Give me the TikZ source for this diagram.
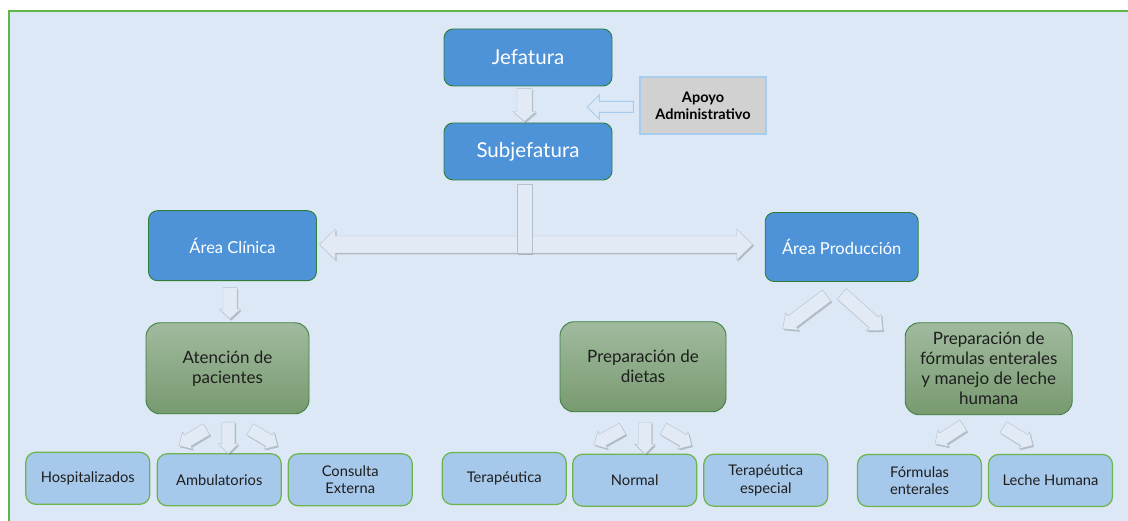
\documentclass[tikz,border=0pt]{standalone}
\usepackage{fontspec}
\setmainfont{Lato}
\usetikzlibrary{calc,shadows}

\definecolor{pagebg}{HTML}{DCE8F5}
\definecolor{framegreen}{HTML}{5DB846}
\definecolor{headblue}{HTML}{4E93D8}
\definecolor{edgegreen}{HTML}{2F7D3B}
\definecolor{unittop}{HTML}{A0BA9E}
\definecolor{unitbot}{HTML}{789A70}
\definecolor{unitedge}{HTML}{3E803E}
\definecolor{leaffill}{HTML}{A6C8EA}
\definecolor{leafedge}{HTML}{6DB34E}
\definecolor{arrowfill}{HTML}{E2EBF5}
\definecolor{arrowedge}{HTML}{B3C0CE}
\definecolor{supportfill}{HTML}{D1D1D1}
\definecolor{supportedge}{HTML}{A8CCEE}
\definecolor{inktext}{HTML}{1E1E1E}

\tikzset{
  headbox/.style={draw=edgegreen, line width=0.9pt, fill=headblue, rounded corners=9pt,
    text=white, align=center, inner sep=0pt},
  unitbox/.style={draw=unitedge, line width=0.9pt, top color=unittop, bottom color=unitbot,
    rounded corners=14pt, text=inktext, align=center, inner sep=0pt,
    font=\fontsize{17}{20}\selectfont, minimum height=91pt},
  leafbox/.style={draw=leafedge, line width=1.2pt, fill=leaffill, rounded corners=10pt,
    text=inktext, align=center, inner sep=0pt, minimum width=124pt, minimum height=52pt,
    font=\fontsize{14.7}{17.5}\selectfont},
  supportbox/.style={draw=supportedge, line width=1.5pt, fill=supportfill, text=black,
    align=center, inner sep=0pt, font=\bfseries\fontsize{14.5}{17}\selectfont},
  barrow/.style={fill=arrowfill, draw=arrowedge, line width=0.4pt,
    drop shadow={shadow xshift=1.2pt, shadow yshift=-1.5pt, opacity=0.35, fill=black!60}},
  outarrow/.style={fill=pagebg, draw=supportedge, line width=1pt},
}

% block arrow: [style]{start}{tip}{shaft half width}{head half width}{head length}
\newcommand\blockarrow[6][barrow]{%
  \coordinate (ba-s) at (#2);
  \coordinate (ba-e) at (#3);
  \coordinate (ba-h) at ($(ba-e)!#6pt!(ba-s)$);
  \path[#1] ($(ba-s)!#4pt!90:(ba-e)$) -- ($(ba-h)!#4pt!90:(ba-e)$)
    -- ($(ba-h)!#5pt!90:(ba-e)$) -- (ba-e)
    -- ($(ba-h)!#5pt!-90:(ba-e)$) -- ($(ba-h)!#4pt!-90:(ba-e)$)
    -- ($(ba-s)!#4pt!-90:(ba-e)$) -- cycle;
}
% two-headed block arrow: {left tip}{right tip}{shaft half width}{head half width}{head length}
\newcommand\dblarrow[5]{%
  \coordinate (da-l) at (#1);
  \coordinate (da-r) at (#2);
  \coordinate (da-hl) at ($(da-l)!#5pt!(da-r)$);
  \coordinate (da-hr) at ($(da-r)!#5pt!(da-l)$);
  \path[barrow] (da-l) -- ($(da-hl)!#4pt!90:(da-r)$) -- ($(da-hl)!#3pt!90:(da-r)$)
    -- ($(da-hr)!#3pt!-90:(da-l)$) -- ($(da-hr)!#4pt!-90:(da-l)$) -- (da-r)
    -- ($(da-hr)!#4pt!90:(da-l)$) -- ($(da-hr)!#3pt!90:(da-l)$)
    -- ($(da-hl)!#3pt!-90:(da-r)$) -- ($(da-hl)!#4pt!-90:(da-r)$) -- cycle;
}

\begin{document}
\begin{tikzpicture}[x=1pt, y=-1pt]
\useasboundingbox (0,0) rectangle (1128,521);
\clip (0,0) rectangle (1128,521);
\fill[white] (0,0) rectangle (1128,521);
\draw[framegreen, line width=2pt, fill=pagebg] (8.5,11) rectangle (1140,535);

% management
\node[headbox, minimum width=168pt, minimum height=57pt, font=\fontsize{20.5}{24}\selectfont]
  (jef) at (528,57.5) {Jefatura};
\node[headbox, minimum width=168pt, minimum height=57pt, font=\fontsize{20.5}{24}\selectfont]
  (sub) at (528,151.5) {Subjefatura};
\node[supportbox, minimum width=126pt, minimum height=57pt]
  (apoyo) at (703,105.5) {Apoyo\\Administrativo};

% areas
\node[headbox, minimum width=168pt, minimum height=70pt, font=\fontsize{16.5}{19}\selectfont]
  (clin) at (232.5,245.7) {Área Clínica};
\node[headbox, minimum width=153pt, minimum height=69pt, font=\fontsize{16.5}{19}\selectfont]
  (prod) at (841.7,247) {Área Producción};

% units
\node[unitbox, minimum width=163pt] (aten) at (227.5,368.3) {Atención de\\pacientes};
\node[unitbox, minimum width=166pt, minimum height=90pt] (diet) at (643,366.8) {Preparación de\\dietas};
\node[unitbox, minimum width=167pt, minimum height=92pt] (form) at (988.7,368.8)
  {Preparación de\\fórmulas enterales\\y manejo de leche\\humana};

% services
\node[leafbox] (hosp) at (87.8,478.3) {Hospitalizados};
\node[leafbox] (ambu) at (219.2,479.8) {Ambulatorios};
\node[leafbox] (cons) at (350.2,479.8) {Consulta\\Externa};
\node[leafbox] (tera) at (504.2,478.5) {Terapéutica};
\node[leafbox] (norm) at (634.7,480.2) {Normal};
\node[leafbox] (tesp) at (765.8,480.2) {Terapéutica\\especial};
\node[leafbox] (fent) at (919.5,480.5) {Fórmulas\\enterales};
\node[leafbox] (lech) at (1050.5,480.5) {Leche Humana};

% connectors
\blockarrow{$(jef.south)+(-3.5,2)$}{$(sub.north)+(-3.5,-1)$}{7.5}{11.5}{10}
\blockarrow[outarrow]{$(apoyo.west)+(-6,1.5)$}{$(apoyo.west)+(-52,1.5)$}{5.5}{12}{12}

\dblarrow{$(clin.east)+(2.5,-1.2)$}{$(prod.west)+(-12,-2.5)$}{8.5}{15.5}{16}
\path[barrow] ($(sub.south)+(-11,4)$) rectangle ($(sub.south)+(4,73)$);

\blockarrow{$(clin.south)+(-2.5,6.3)$}{$(aten.north)+(2.5,-3.2)$}{7}{10.5}{10}

\blockarrow{$(prod.south)+(-15,13.5)$}{$(prod.south)+(-59,46.8)$}{7}{11}{12}
\blockarrow{$(prod.south)+(0,11.8)$}{$(prod.south)+(41,48.5)$}{7}{11}{12}

\blockarrow{$(aten.south)+(-21,15)$}{$(aten.south)+(-48.5,31.5)$}{6.5}{10}{10}
\blockarrow{$(aten.south)+(0.8,7.9)$}{$(aten.south)+(0.8,39.5)$}{6.5}{10}{10}
\blockarrow{$(aten.south)+(22.5,15)$}{$(aten.south)+(50,31.5)$}{6.5}{10}{10}

\blockarrow{$(diet.south)+(-20.3,16.5)$}{$(diet.south)+(-49,32.5)$}{6.5}{10}{10}
\blockarrow{$(diet.south)+(2,10)$}{$(diet.south)+(2,42)$}{6.5}{10}{10}
\blockarrow{$(diet.south)+(20.3,16.5)$}{$(diet.south)+(48.7,33.2)$}{6.5}{10}{10}

\blockarrow{$(form.south)+(-25.4,10.2)$}{$(form.south)+(-53.7,28.5)$}{6.5}{10}{10}
\blockarrow{$(form.south)+(14.6,11.9)$}{$(form.south)+(44,30.2)$}{6.5}{10}{10}
\end{tikzpicture}
\end{document}
